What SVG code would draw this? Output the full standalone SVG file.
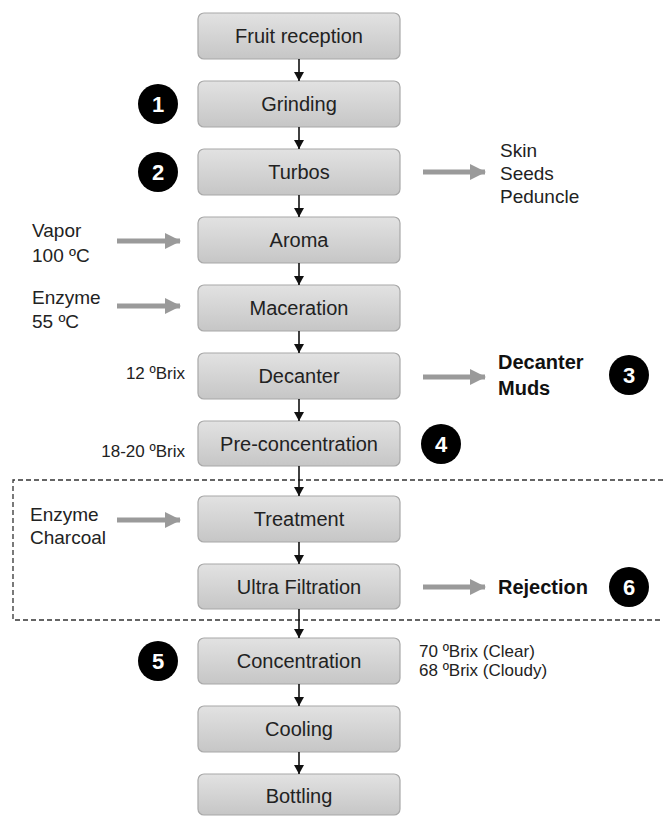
<svg xmlns="http://www.w3.org/2000/svg" width="663" height="816" viewBox="0 0 663 816">
<defs>
<linearGradient id="g" x1="0" y1="0" x2="0" y2="1">
<stop offset="0" stop-color="#e2e2e2"/>
<stop offset="1" stop-color="#c6c6c6"/>
</linearGradient>
<marker id="ah" markerWidth="10" markerHeight="10" refX="9" refY="5" orient="auto" markerUnits="userSpaceOnUse">
<path d="M0,0 L9,5 L0,10 Z" fill="#111"/>
</marker>
<marker id="gh" markerWidth="16" markerHeight="16" refX="15" refY="8" orient="auto" markerUnits="userSpaceOnUse">
<path d="M0,0 L16,8 L0,16 Z" fill="#9a9a9a"/>
</marker>
<style>
.box rect{fill:url(#g);stroke:#a8a8a8;stroke-width:1.2}
.box text{font-family:"Liberation Sans",Arial,sans-serif;font-size:20px;fill:#222;text-anchor:middle}
.t{font-family:"Liberation Sans",Arial,sans-serif;font-size:19px;fill:#222}
.s{font-family:"Liberation Sans",Arial,sans-serif;font-size:17px;fill:#222}
.b{font-family:"Liberation Sans",Arial,sans-serif;font-size:20px;font-weight:bold;fill:#111}
.num circle{fill:#000}
.num text{font-family:"Liberation Sans",Arial,sans-serif;font-size:22px;font-weight:bold;fill:#fff;text-anchor:middle}
.v{stroke:#111;stroke-width:1.6;fill:none;marker-end:url(#ah)}
.ga{stroke:#9a9a9a;stroke-width:5;fill:none;marker-end:url(#gh)}
</style>
</defs>
<rect width="663" height="816" fill="#fff"/>
<path d="M663,480 H13 V620 H663" fill="none" stroke="#333" stroke-width="1.3" stroke-dasharray="5,3"/>
<g id="n1" class="box"><rect x="198" y="13" width="202" height="46" rx="6"/><text x="299" y="43">Fruit reception</text></g>
<g id="n2" class="box"><rect x="198" y="81" width="202" height="46" rx="6"/><text x="299" y="111">Grinding</text></g>
<g id="n3" class="box"><rect x="198" y="149" width="202" height="46" rx="6"/><text x="299" y="179">Turbos</text></g>
<g id="n4" class="box"><rect x="198" y="217" width="202" height="46" rx="6"/><text x="299" y="247">Aroma</text></g>
<g id="n5" class="box"><rect x="198" y="285" width="202" height="46" rx="6"/><text x="299" y="315">Maceration</text></g>
<g id="n6" class="box"><rect x="198" y="353" width="202" height="46" rx="6"/><text x="299" y="383">Decanter</text></g>
<g id="n7" class="box"><rect x="198" y="421" width="202" height="45" rx="6"/><text x="299" y="451">Pre-concentration</text></g>
<g id="n8" class="box"><rect x="198" y="496" width="202" height="46" rx="6"/><text x="299" y="526">Treatment</text></g>
<g id="n9" class="box"><rect x="198" y="564" width="202" height="45" rx="6"/><text x="299" y="594">Ultra Filtration</text></g>
<g id="n10" class="box"><rect x="198" y="638" width="202" height="46" rx="6"/><text x="299" y="668">Concentration</text></g>
<g id="n11" class="box"><rect x="198" y="706" width="202" height="46" rx="6"/><text x="299" y="736">Cooling</text></g>
<g id="n12" class="box"><rect x="198" y="774" width="202" height="41" rx="6"/><text x="299" y="803">Bottling</text></g>
<g id="connectors">
<line class="v" x1="299" y1="59" x2="299" y2="81"/>
<line class="v" x1="299" y1="127" x2="299" y2="149"/>
<line class="v" x1="299" y1="195" x2="299" y2="217"/>
<line class="v" x1="299" y1="263" x2="299" y2="285"/>
<line class="v" x1="299" y1="331" x2="299" y2="353"/>
<line class="v" x1="299" y1="399" x2="299" y2="421"/>
<line class="v" x1="299" y1="466" x2="299" y2="496"/>
<line class="v" x1="299" y1="542" x2="299" y2="564"/>
<line class="v" x1="299" y1="609" x2="299" y2="638"/>
<line class="v" x1="299" y1="684" x2="299" y2="706"/>
<line class="v" x1="299" y1="752" x2="299" y2="774"/>
<line class="ga" x1="423" y1="172" x2="485" y2="172"/>
<line class="ga" x1="117" y1="241" x2="180" y2="241"/>
<line class="ga" x1="117" y1="306" x2="180" y2="306"/>
<line class="ga" x1="423" y1="377" x2="485" y2="377"/>
<line class="ga" x1="117" y1="520" x2="180" y2="520"/>
<line class="ga" x1="423" y1="587" x2="485" y2="587"/>
</g>
<g id="labels">
<text class="t" x="500" y="157">Skin</text>
<text class="t" x="500" y="180">Seeds</text>
<text class="t" x="500" y="203">Peduncle</text>
<text class="t" x="32" y="237">Vapor</text>
<text class="t" x="32" y="262">100 ºC</text>
<text class="t" x="32" y="304">Enzyme</text>
<text class="t" x="32" y="328">55 ºC</text>
<text class="s" x="185" y="379" text-anchor="end">12 ºBrix</text>
<text class="s" x="185" y="457" text-anchor="end">18-20 ºBrix</text>
<text class="b" x="498" y="369">Decanter</text>
<text class="b" x="498" y="395">Muds</text>
<text class="t" x="30" y="521">Enzyme</text>
<text class="t" x="30" y="544">Charcoal</text>
<text class="b" x="498" y="594">Rejection</text>
<text class="s" x="419" y="657">70 ºBrix (Clear)</text>
<text class="s" x="419" y="676">68 ºBrix (Cloudy)</text>
</g>
<g id="m1" class="num"><circle cx="158" cy="104" r="20"/><text x="158" y="112">1</text></g>
<g id="m2" class="num"><circle cx="158" cy="172" r="20"/><text x="158" y="180">2</text></g>
<g id="m3" class="num"><circle cx="629" cy="375" r="20"/><text x="629" y="383">3</text></g>
<g id="m4" class="num"><circle cx="441" cy="444" r="20"/><text x="441" y="452">4</text></g>
<g id="m5" class="num"><circle cx="158" cy="661" r="20"/><text x="158" y="669">5</text></g>
<g id="m6" class="num"><circle cx="629" cy="587" r="20"/><text x="629" y="595">6</text></g>
</svg>
